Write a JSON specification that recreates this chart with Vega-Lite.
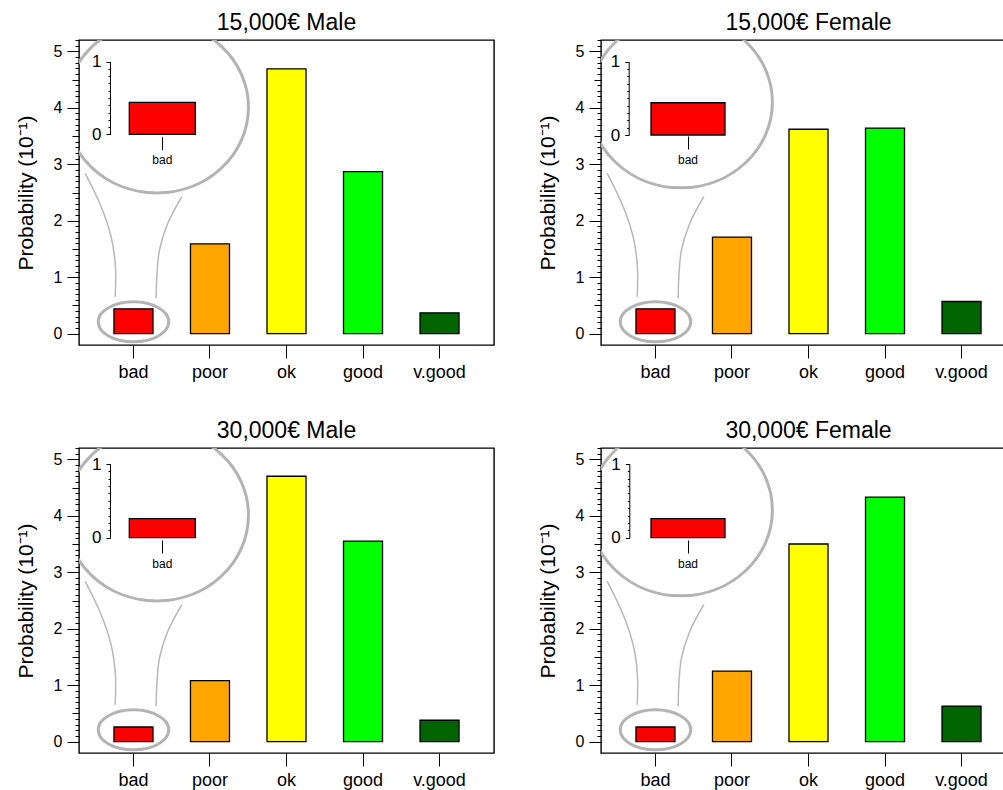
{
"$schema": "https://vega.github.io/schema/vega-lite/v6.json",
"padding": {"left": 14, "top": 10, "right": 0, "bottom": 0},
"config": {
  "font": "Liberation Sans",
  "view": {"stroke": "black", "strokeWidth": 1.4},
  "axis": {"labelColor": "black", "tickColor": "black", "domainColor": "black", "titleColor": "black", "grid": false, "titleFontWeight": "normal", "tickWidth": 1, "domainWidth": 1, "labelFont": "Liberation Sans", "titleFont": "Liberation Sans"},
  "title": {"fontSize": 23, "fontWeight": "normal", "anchor": "middle", "frame": "group", "offset": 5, "baseline": "alphabetic", "color": "black", "font": "Liberation Sans"}
},
"datasets": {
  "bars": [
    {"panel": "15,000€ Male", "cat": "bad", "p": 0.44},
    {"panel": "15,000€ Male", "cat": "poor", "p": 1.59},
    {"panel": "15,000€ Male", "cat": "ok", "p": 4.69},
    {"panel": "15,000€ Male", "cat": "good", "p": 2.87},
    {"panel": "15,000€ Male", "cat": "v.good", "p": 0.37},
    {"panel": "15,000€ Female", "cat": "bad", "p": 0.44},
    {"panel": "15,000€ Female", "cat": "poor", "p": 1.71},
    {"panel": "15,000€ Female", "cat": "ok", "p": 3.62},
    {"panel": "15,000€ Female", "cat": "good", "p": 3.64},
    {"panel": "15,000€ Female", "cat": "v.good", "p": 0.57},
    {"panel": "30,000€ Male", "cat": "bad", "p": 0.26},
    {"panel": "30,000€ Male", "cat": "poor", "p": 1.08},
    {"panel": "30,000€ Male", "cat": "ok", "p": 4.70},
    {"panel": "30,000€ Male", "cat": "good", "p": 3.55},
    {"panel": "30,000€ Male", "cat": "v.good", "p": 0.38},
    {"panel": "30,000€ Female", "cat": "bad", "p": 0.26},
    {"panel": "30,000€ Female", "cat": "poor", "p": 1.25},
    {"panel": "30,000€ Female", "cat": "ok", "p": 3.50},
    {"panel": "30,000€ Female", "cat": "good", "p": 4.33},
    {"panel": "30,000€ Female", "cat": "v.good", "p": 0.63}
  ],
  "circles": [
    {"panel": "15,000€ Male", "kind": "big", "x": 0.305, "y": 4.01},
    {"panel": "15,000€ Male", "kind": "small", "x": 0, "y": 0.21},
    {"panel": "15,000€ Female", "kind": "big", "x": 0.33, "y": 4.1},
    {"panel": "15,000€ Female", "kind": "small", "x": 0, "y": 0.21},
    {"panel": "30,000€ Male", "kind": "big", "x": 0.305, "y": 4.01},
    {"panel": "30,000€ Male", "kind": "small", "x": 0, "y": 0.21},
    {"panel": "30,000€ Female", "kind": "big", "x": 0.33, "y": 4.1},
    {"panel": "30,000€ Female", "kind": "small", "x": 0, "y": 0.21}
  ],
  "curves": [
    {"panel": "15,000€ Male", "side": "L", "i": 1, "x": -0.629, "y": 2.84},
    {"panel": "15,000€ Male", "side": "L", "i": 2, "x": -0.421, "y": 2.249},
    {"panel": "15,000€ Male", "side": "L", "i": 3, "x": -0.291, "y": 1.717},
    {"panel": "15,000€ Male", "side": "L", "i": 4, "x": -0.235, "y": 1.186},
    {"panel": "15,000€ Male", "side": "L", "i": 5, "x": -0.238, "y": 0.655},
    {"panel": "15,000€ Male", "side": "R", "i": 1, "x": 0.631, "y": 2.426},
    {"panel": "15,000€ Male", "side": "R", "i": 2, "x": 0.448, "y": 1.955},
    {"panel": "15,000€ Male", "side": "R", "i": 3, "x": 0.339, "y": 1.482},
    {"panel": "15,000€ Male", "side": "R", "i": 4, "x": 0.305, "y": 1.009},
    {"panel": "15,000€ Male", "side": "R", "i": 5, "x": 0.296, "y": 0.627},
    {"panel": "15,000€ Female", "side": "L", "i": 1, "x": -0.629, "y": 2.84},
    {"panel": "15,000€ Female", "side": "L", "i": 2, "x": -0.421, "y": 2.249},
    {"panel": "15,000€ Female", "side": "L", "i": 3, "x": -0.291, "y": 1.717},
    {"panel": "15,000€ Female", "side": "L", "i": 4, "x": -0.235, "y": 1.186},
    {"panel": "15,000€ Female", "side": "L", "i": 5, "x": -0.238, "y": 0.655},
    {"panel": "15,000€ Female", "side": "R", "i": 1, "x": 0.631, "y": 2.426},
    {"panel": "15,000€ Female", "side": "R", "i": 2, "x": 0.448, "y": 1.955},
    {"panel": "15,000€ Female", "side": "R", "i": 3, "x": 0.339, "y": 1.482},
    {"panel": "15,000€ Female", "side": "R", "i": 4, "x": 0.305, "y": 1.009},
    {"panel": "15,000€ Female", "side": "R", "i": 5, "x": 0.296, "y": 0.627},
    {"panel": "30,000€ Male", "side": "L", "i": 1, "x": -0.629, "y": 2.84},
    {"panel": "30,000€ Male", "side": "L", "i": 2, "x": -0.421, "y": 2.249},
    {"panel": "30,000€ Male", "side": "L", "i": 3, "x": -0.291, "y": 1.717},
    {"panel": "30,000€ Male", "side": "L", "i": 4, "x": -0.235, "y": 1.186},
    {"panel": "30,000€ Male", "side": "L", "i": 5, "x": -0.238, "y": 0.655},
    {"panel": "30,000€ Male", "side": "R", "i": 1, "x": 0.631, "y": 2.426},
    {"panel": "30,000€ Male", "side": "R", "i": 2, "x": 0.448, "y": 1.955},
    {"panel": "30,000€ Male", "side": "R", "i": 3, "x": 0.339, "y": 1.482},
    {"panel": "30,000€ Male", "side": "R", "i": 4, "x": 0.305, "y": 1.009},
    {"panel": "30,000€ Male", "side": "R", "i": 5, "x": 0.296, "y": 0.627},
    {"panel": "30,000€ Female", "side": "L", "i": 1, "x": -0.629, "y": 2.84},
    {"panel": "30,000€ Female", "side": "L", "i": 2, "x": -0.421, "y": 2.249},
    {"panel": "30,000€ Female", "side": "L", "i": 3, "x": -0.291, "y": 1.717},
    {"panel": "30,000€ Female", "side": "L", "i": 4, "x": -0.235, "y": 1.186},
    {"panel": "30,000€ Female", "side": "L", "i": 5, "x": -0.238, "y": 0.655},
    {"panel": "30,000€ Female", "side": "R", "i": 1, "x": 0.631, "y": 2.426},
    {"panel": "30,000€ Female", "side": "R", "i": 2, "x": 0.448, "y": 1.955},
    {"panel": "30,000€ Female", "side": "R", "i": 3, "x": 0.339, "y": 1.482},
    {"panel": "30,000€ Female", "side": "R", "i": 4, "x": 0.305, "y": 1.009},
    {"panel": "30,000€ Female", "side": "R", "i": 5, "x": 0.296, "y": 0.627}
  ]
},
"columns": 2,
"spacing": {"row": 103, "column": 107},
"bounds": "flush",
"concat": [
{
"width": 415, "height": 305,
"title": {"text": "15,000€ Male"},
"resolve": {"scale": {"x": "independent", "y": "independent"}},
"layer": [
 {"data": {"name": "bars"}, "transform": [{"filter": "datum.panel === '15,000€ Male'"}],
  "mark": {"type": "bar", "stroke": "black", "strokeWidth": 1.3},
  "encoding": {
   "x": {"field": "cat", "type": "nominal", "scale": {"domain": ["bad", "poor", "ok", "good", "v.good"], "paddingInner": 0.49, "paddingOuter": 0.457}, "axis": {"orient": "bottom", "title": null, "domain": false, "tickSize": 13, "labelPadding": 5, "labelFontSize": 18, "labelAngle": 0}},
   "y": {"field": "p", "type": "quantitative", "scale": {"domain": [-0.2, 5.2], "nice": false, "zero": false}, "axis": {"orient": "left", "title": "Probability (10⁻¹)", "values": [0, 1, 2, 3, 4, 5], "tickSize": 12, "labelPadding": 5, "labelFontSize": 16, "titleFontSize": 21, "titlePadding": 17, "domain": false}},
   "y2": {"datum": 0},
   "fill": {"field": "cat", "type": "nominal", "scale": {"domain": ["bad", "poor", "ok", "good", "v.good"], "range": ["#FF0000", "#FFA500", "#FFFF00", "#00FF00", "#006400"]}, "legend": null}
  }},
 {"data": {"name": "bars"}, "transform": [{"filter": "datum.panel === '15,000€ Male'"}],
  "mark": {"type": "point", "opacity": 0},
  "encoding": {"x": {"field": "cat", "type": "nominal", "axis": null}, "y": {"field": "p", "type": "quantitative", "scale": {"domain": [-0.2, 5.2], "nice": false, "zero": false}, "axis": {"orient": "left", "title": null, "labels": false, "domain": false, "tickSize": 4, "values": [0,0.1,0.2,0.3,0.4,0.5,0.6,0.7,0.8,0.9,1,1.1,1.2,1.3,1.4,1.5,1.6,1.7,1.8,1.9,2,2.1,2.2,2.3,2.4,2.5,2.6,2.7,2.8,2.9,3,3.1,3.2,3.3,3.4,3.5,3.6,3.7,3.8,3.9,4,4.1,4.2,4.3,4.4,4.5,4.6,4.7,4.8,4.9,5,5.1,5.2]}}}},
 {"data": {"name": "bars"}, "transform": [{"filter": "datum.panel === '15,000€ Male'"}],
  "mark": {"type": "point", "opacity": 0},
  "encoding": {"x": {"field": "cat", "type": "nominal", "axis": null}, "y": {"field": "p", "type": "quantitative", "scale": {"domain": [-0.2, 5.2], "nice": false, "zero": false}, "axis": {"orient": "left", "title": null, "labels": false, "domain": false, "tickSize": 7, "values": [0.5, 1.5, 2.5, 3.5, 4.5]}}}},
 {"data": {"name": "bars"}, "transform": [{"filter": "datum.panel === '15,000€ Male' && datum.cat === 'bad'"}],
  "mark": {"type": "bar", "stroke": "black", "strokeWidth": 1.3, "fill": "#FF0000"},
  "encoding": {
   "x": {"field": "cat", "type": "nominal", "scale": {"domain": ["bad"], "range": [50.3, 116.3], "paddingInner": 0, "paddingOuter": 0}, "axis": {"orient": "bottom", "offset": -208.3, "title": null, "domain": false, "tickSize": 13, "labelPadding": 5, "labelFontSize": 12, "labelAngle": 0}},
   "y": {"field": "p", "type": "quantitative", "scale": {"domain": [0, 1], "range": [94.3, 21.7], "nice": false, "zero": false}, "axis": {"orient": "left", "offset": -31, "title": null, "values": [0, 1], "format": "d", "tickSize": 4, "labelPadding": 5, "labelFontSize": 17, "domain": true}},
   "y2": {"datum": 0}
  }},
 {"data": {"name": "bars"}, "transform": [{"filter": "datum.panel === '15,000€ Male' && datum.cat === 'bad'"}],
  "mark": {"type": "point", "opacity": 0},
  "encoding": {"x": {"field": "cat", "type": "nominal", "axis": null}, "y": {"field": "p", "type": "quantitative", "scale": {"domain": [0, 1], "range": [94.3, 21.7], "nice": false, "zero": false}, "axis": {"orient": "left", "offset": -31, "title": null, "labels": false, "domain": false, "tickSize": 2, "values": [0,0.1,0.2,0.3,0.4,0.5,0.6,0.7,0.8,0.9,1]}}}},
 {"data": {"name": "circles"}, "transform": [{"filter": "datum.panel === '15,000€ Male' && datum.kind === 'big'"}],
  "mark": {"type": "point", "shape": "M1,0C1,0.517 0.552,0.936 0,0.936C-0.552,0.936 -1,0.517 -1,0C-1,-0.517 -0.552,-0.936 0,-0.936C0.552,-0.936 1,-0.517 1,0Z", "size": 33562, "filled": false, "stroke": "#b3b3b3", "strokeWidth": 3, "opacity": 1, "clip": true},
  "encoding": {"x": {"field": "x", "type": "quantitative", "scale": {"domain": [-0.71, 4.7], "nice": false, "zero": false}, "axis": null}, "y": {"field": "y", "type": "quantitative", "scale": {"domain": [-0.2, 5.2], "nice": false, "zero": false}, "axis": null}}},
 {"data": {"name": "circles"}, "transform": [{"filter": "datum.panel === '15,000€ Male' && datum.kind === 'small'"}],
  "mark": {"type": "point", "shape": "M1,0C1,0.313 0.552,0.567 0,0.567C-0.552,0.567 -1,0.313 -1,0C-1,-0.313 -0.552,-0.567 0,-0.567C0.552,-0.567 1,-0.313 1,0Z", "size": 4984, "filled": false, "stroke": "#b3b3b3", "strokeWidth": 3, "opacity": 1, "clip": true},
  "encoding": {"x": {"field": "x", "type": "quantitative", "scale": {"domain": [-0.71, 4.7], "nice": false, "zero": false}, "axis": null}, "y": {"field": "y", "type": "quantitative", "scale": {"domain": [-0.2, 5.2], "nice": false, "zero": false}, "axis": null}}},
 {"data": {"name": "curves"}, "transform": [{"filter": "datum.panel === '15,000€ Male'"}],
  "mark": {"type": "line", "stroke": "#b8b8b8", "strokeWidth": 1.5, "interpolate": "catmull-rom"},
  "encoding": {"x": {"field": "x", "type": "quantitative", "scale": {"domain": [-0.71, 4.7], "nice": false, "zero": false}, "axis": null}, "y": {"field": "y", "type": "quantitative", "scale": {"domain": [-0.2, 5.2], "nice": false, "zero": false}, "axis": null}, "detail": {"field": "side"}, "order": {"field": "i"}}}
]
},
{
"width": 415, "height": 305,
"title": {"text": "15,000€ Female"},
"resolve": {"scale": {"x": "independent", "y": "independent"}},
"layer": [
 {"data": {"name": "bars"}, "transform": [{"filter": "datum.panel === '15,000€ Female'"}],
  "mark": {"type": "bar", "stroke": "black", "strokeWidth": 1.3},
  "encoding": {
   "x": {"field": "cat", "type": "nominal", "scale": {"domain": ["bad", "poor", "ok", "good", "v.good"], "paddingInner": 0.49, "paddingOuter": 0.457}, "axis": {"orient": "bottom", "title": null, "domain": false, "tickSize": 13, "labelPadding": 5, "labelFontSize": 18, "labelAngle": 0}},
   "y": {"field": "p", "type": "quantitative", "scale": {"domain": [-0.2, 5.2], "nice": false, "zero": false}, "axis": {"orient": "left", "title": "Probability (10⁻¹)", "values": [0, 1, 2, 3, 4, 5], "tickSize": 12, "labelPadding": 5, "labelFontSize": 16, "titleFontSize": 21, "titlePadding": 17, "domain": false}},
   "y2": {"datum": 0},
   "fill": {"field": "cat", "type": "nominal", "scale": {"domain": ["bad", "poor", "ok", "good", "v.good"], "range": ["#FF0000", "#FFA500", "#FFFF00", "#00FF00", "#006400"]}, "legend": null}
  }},
 {"data": {"name": "bars"}, "transform": [{"filter": "datum.panel === '15,000€ Female'"}],
  "mark": {"type": "point", "opacity": 0},
  "encoding": {"x": {"field": "cat", "type": "nominal", "axis": null}, "y": {"field": "p", "type": "quantitative", "scale": {"domain": [-0.2, 5.2], "nice": false, "zero": false}, "axis": {"orient": "left", "title": null, "labels": false, "domain": false, "tickSize": 4, "values": [0,0.1,0.2,0.3,0.4,0.5,0.6,0.7,0.8,0.9,1,1.1,1.2,1.3,1.4,1.5,1.6,1.7,1.8,1.9,2,2.1,2.2,2.3,2.4,2.5,2.6,2.7,2.8,2.9,3,3.1,3.2,3.3,3.4,3.5,3.6,3.7,3.8,3.9,4,4.1,4.2,4.3,4.4,4.5,4.6,4.7,4.8,4.9,5,5.1,5.2]}}}},
 {"data": {"name": "bars"}, "transform": [{"filter": "datum.panel === '15,000€ Female'"}],
  "mark": {"type": "point", "opacity": 0},
  "encoding": {"x": {"field": "cat", "type": "nominal", "axis": null}, "y": {"field": "p", "type": "quantitative", "scale": {"domain": [-0.2, 5.2], "nice": false, "zero": false}, "axis": {"orient": "left", "title": null, "labels": false, "domain": false, "tickSize": 7, "values": [0.5, 1.5, 2.5, 3.5, 4.5]}}}},
 {"data": {"name": "bars"}, "transform": [{"filter": "datum.panel === '15,000€ Female' && datum.cat === 'bad'"}],
  "mark": {"type": "bar", "stroke": "black", "strokeWidth": 1.3, "fill": "#FF0000"},
  "encoding": {
   "x": {"field": "cat", "type": "nominal", "scale": {"domain": ["bad"], "range": [50, 124], "paddingInner": 0, "paddingOuter": 0}, "axis": {"orient": "bottom", "offset": -209, "title": null, "domain": false, "tickSize": 13, "labelPadding": 5, "labelFontSize": 12, "labelAngle": 0}},
   "y": {"field": "p", "type": "quantitative", "scale": {"domain": [0, 1], "range": [95, 21.7], "nice": false, "zero": false}, "axis": {"orient": "left", "offset": -27.7, "title": null, "values": [0, 1], "format": "d", "tickSize": 4, "labelPadding": 5, "labelFontSize": 17, "domain": true}},
   "y2": {"datum": 0}
  }},
 {"data": {"name": "bars"}, "transform": [{"filter": "datum.panel === '15,000€ Female' && datum.cat === 'bad'"}],
  "mark": {"type": "point", "opacity": 0},
  "encoding": {"x": {"field": "cat", "type": "nominal", "axis": null}, "y": {"field": "p", "type": "quantitative", "scale": {"domain": [0, 1], "range": [95, 21.7], "nice": false, "zero": false}, "axis": {"orient": "left", "offset": -27.7, "title": null, "labels": false, "domain": false, "tickSize": 2, "values": [0,0.1,0.2,0.3,0.4,0.5,0.6,0.7,0.8,0.9,1]}}}},
 {"data": {"name": "circles"}, "transform": [{"filter": "datum.panel === '15,000€ Female' && datum.kind === 'big'"}],
  "mark": {"type": "point", "shape": "M1,0C1,0.517 0.552,0.936 0,0.936C-0.552,0.936 -1,0.517 -1,0C-1,-0.517 -0.552,-0.936 0,-0.936C0.552,-0.936 1,-0.517 1,0Z", "size": 33562, "filled": false, "stroke": "#b3b3b3", "strokeWidth": 3, "opacity": 1, "clip": true},
  "encoding": {"x": {"field": "x", "type": "quantitative", "scale": {"domain": [-0.71, 4.7], "nice": false, "zero": false}, "axis": null}, "y": {"field": "y", "type": "quantitative", "scale": {"domain": [-0.2, 5.2], "nice": false, "zero": false}, "axis": null}}},
 {"data": {"name": "circles"}, "transform": [{"filter": "datum.panel === '15,000€ Female' && datum.kind === 'small'"}],
  "mark": {"type": "point", "shape": "M1,0C1,0.313 0.552,0.567 0,0.567C-0.552,0.567 -1,0.313 -1,0C-1,-0.313 -0.552,-0.567 0,-0.567C0.552,-0.567 1,-0.313 1,0Z", "size": 4984, "filled": false, "stroke": "#b3b3b3", "strokeWidth": 3, "opacity": 1, "clip": true},
  "encoding": {"x": {"field": "x", "type": "quantitative", "scale": {"domain": [-0.71, 4.7], "nice": false, "zero": false}, "axis": null}, "y": {"field": "y", "type": "quantitative", "scale": {"domain": [-0.2, 5.2], "nice": false, "zero": false}, "axis": null}}},
 {"data": {"name": "curves"}, "transform": [{"filter": "datum.panel === '15,000€ Female'"}],
  "mark": {"type": "line", "stroke": "#b8b8b8", "strokeWidth": 1.5, "interpolate": "catmull-rom"},
  "encoding": {"x": {"field": "x", "type": "quantitative", "scale": {"domain": [-0.71, 4.7], "nice": false, "zero": false}, "axis": null}, "y": {"field": "y", "type": "quantitative", "scale": {"domain": [-0.2, 5.2], "nice": false, "zero": false}, "axis": null}, "detail": {"field": "side"}, "order": {"field": "i"}}}
]
},
{
"width": 415, "height": 305,
"title": {"text": "30,000€ Male"},
"resolve": {"scale": {"x": "independent", "y": "independent"}},
"layer": [
 {"data": {"name": "bars"}, "transform": [{"filter": "datum.panel === '30,000€ Male'"}],
  "mark": {"type": "bar", "stroke": "black", "strokeWidth": 1.3},
  "encoding": {
   "x": {"field": "cat", "type": "nominal", "scale": {"domain": ["bad", "poor", "ok", "good", "v.good"], "paddingInner": 0.49, "paddingOuter": 0.457}, "axis": {"orient": "bottom", "title": null, "domain": false, "tickSize": 13, "labelPadding": 5, "labelFontSize": 18, "labelAngle": 0}},
   "y": {"field": "p", "type": "quantitative", "scale": {"domain": [-0.2, 5.2], "nice": false, "zero": false}, "axis": {"orient": "left", "title": "Probability (10⁻¹)", "values": [0, 1, 2, 3, 4, 5], "tickSize": 12, "labelPadding": 5, "labelFontSize": 16, "titleFontSize": 21, "titlePadding": 17, "domain": false}},
   "y2": {"datum": 0},
   "fill": {"field": "cat", "type": "nominal", "scale": {"domain": ["bad", "poor", "ok", "good", "v.good"], "range": ["#FF0000", "#FFA500", "#FFFF00", "#00FF00", "#006400"]}, "legend": null}
  }},
 {"data": {"name": "bars"}, "transform": [{"filter": "datum.panel === '30,000€ Male'"}],
  "mark": {"type": "point", "opacity": 0},
  "encoding": {"x": {"field": "cat", "type": "nominal", "axis": null}, "y": {"field": "p", "type": "quantitative", "scale": {"domain": [-0.2, 5.2], "nice": false, "zero": false}, "axis": {"orient": "left", "title": null, "labels": false, "domain": false, "tickSize": 4, "values": [0,0.1,0.2,0.3,0.4,0.5,0.6,0.7,0.8,0.9,1,1.1,1.2,1.3,1.4,1.5,1.6,1.7,1.8,1.9,2,2.1,2.2,2.3,2.4,2.5,2.6,2.7,2.8,2.9,3,3.1,3.2,3.3,3.4,3.5,3.6,3.7,3.8,3.9,4,4.1,4.2,4.3,4.4,4.5,4.6,4.7,4.8,4.9,5,5.1,5.2]}}}},
 {"data": {"name": "bars"}, "transform": [{"filter": "datum.panel === '30,000€ Male'"}],
  "mark": {"type": "point", "opacity": 0},
  "encoding": {"x": {"field": "cat", "type": "nominal", "axis": null}, "y": {"field": "p", "type": "quantitative", "scale": {"domain": [-0.2, 5.2], "nice": false, "zero": false}, "axis": {"orient": "left", "title": null, "labels": false, "domain": false, "tickSize": 7, "values": [0.5, 1.5, 2.5, 3.5, 4.5]}}}},
 {"data": {"name": "bars"}, "transform": [{"filter": "datum.panel === '30,000€ Male' && datum.cat === 'bad'"}],
  "mark": {"type": "bar", "stroke": "black", "strokeWidth": 1.3, "fill": "#FF0000"},
  "encoding": {
   "x": {"field": "cat", "type": "nominal", "scale": {"domain": ["bad"], "range": [50.3, 116.3], "paddingInner": 0, "paddingOuter": 0}, "axis": {"orient": "bottom", "offset": -213, "title": null, "domain": false, "tickSize": 13, "labelPadding": 5, "labelFontSize": 12, "labelAngle": 0}},
   "y": {"field": "p", "type": "quantitative", "scale": {"domain": [0, 1], "range": [89.7, 16], "nice": false, "zero": false}, "axis": {"orient": "left", "offset": -31, "title": null, "values": [0, 1], "format": "d", "tickSize": 4, "labelPadding": 5, "labelFontSize": 17, "domain": true}},
   "y2": {"datum": 0}
  }},
 {"data": {"name": "bars"}, "transform": [{"filter": "datum.panel === '30,000€ Male' && datum.cat === 'bad'"}],
  "mark": {"type": "point", "opacity": 0},
  "encoding": {"x": {"field": "cat", "type": "nominal", "axis": null}, "y": {"field": "p", "type": "quantitative", "scale": {"domain": [0, 1], "range": [89.7, 16], "nice": false, "zero": false}, "axis": {"orient": "left", "offset": -31, "title": null, "labels": false, "domain": false, "tickSize": 2, "values": [0,0.1,0.2,0.3,0.4,0.5,0.6,0.7,0.8,0.9,1]}}}},
 {"data": {"name": "circles"}, "transform": [{"filter": "datum.panel === '30,000€ Male' && datum.kind === 'big'"}],
  "mark": {"type": "point", "shape": "M1,0C1,0.517 0.552,0.936 0,0.936C-0.552,0.936 -1,0.517 -1,0C-1,-0.517 -0.552,-0.936 0,-0.936C0.552,-0.936 1,-0.517 1,0Z", "size": 33562, "filled": false, "stroke": "#b3b3b3", "strokeWidth": 3, "opacity": 1, "clip": true},
  "encoding": {"x": {"field": "x", "type": "quantitative", "scale": {"domain": [-0.71, 4.7], "nice": false, "zero": false}, "axis": null}, "y": {"field": "y", "type": "quantitative", "scale": {"domain": [-0.2, 5.2], "nice": false, "zero": false}, "axis": null}}},
 {"data": {"name": "circles"}, "transform": [{"filter": "datum.panel === '30,000€ Male' && datum.kind === 'small'"}],
  "mark": {"type": "point", "shape": "M1,0C1,0.313 0.552,0.567 0,0.567C-0.552,0.567 -1,0.313 -1,0C-1,-0.313 -0.552,-0.567 0,-0.567C0.552,-0.567 1,-0.313 1,0Z", "size": 4984, "filled": false, "stroke": "#b3b3b3", "strokeWidth": 3, "opacity": 1, "clip": true},
  "encoding": {"x": {"field": "x", "type": "quantitative", "scale": {"domain": [-0.71, 4.7], "nice": false, "zero": false}, "axis": null}, "y": {"field": "y", "type": "quantitative", "scale": {"domain": [-0.2, 5.2], "nice": false, "zero": false}, "axis": null}}},
 {"data": {"name": "curves"}, "transform": [{"filter": "datum.panel === '30,000€ Male'"}],
  "mark": {"type": "line", "stroke": "#b8b8b8", "strokeWidth": 1.5, "interpolate": "catmull-rom"},
  "encoding": {"x": {"field": "x", "type": "quantitative", "scale": {"domain": [-0.71, 4.7], "nice": false, "zero": false}, "axis": null}, "y": {"field": "y", "type": "quantitative", "scale": {"domain": [-0.2, 5.2], "nice": false, "zero": false}, "axis": null}, "detail": {"field": "side"}, "order": {"field": "i"}}}
]
},
{
"width": 415, "height": 305,
"title": {"text": "30,000€ Female"},
"resolve": {"scale": {"x": "independent", "y": "independent"}},
"layer": [
 {"data": {"name": "bars"}, "transform": [{"filter": "datum.panel === '30,000€ Female'"}],
  "mark": {"type": "bar", "stroke": "black", "strokeWidth": 1.3},
  "encoding": {
   "x": {"field": "cat", "type": "nominal", "scale": {"domain": ["bad", "poor", "ok", "good", "v.good"], "paddingInner": 0.49, "paddingOuter": 0.457}, "axis": {"orient": "bottom", "title": null, "domain": false, "tickSize": 13, "labelPadding": 5, "labelFontSize": 18, "labelAngle": 0}},
   "y": {"field": "p", "type": "quantitative", "scale": {"domain": [-0.2, 5.2], "nice": false, "zero": false}, "axis": {"orient": "left", "title": "Probability (10⁻¹)", "values": [0, 1, 2, 3, 4, 5], "tickSize": 12, "labelPadding": 5, "labelFontSize": 16, "titleFontSize": 21, "titlePadding": 17, "domain": false}},
   "y2": {"datum": 0},
   "fill": {"field": "cat", "type": "nominal", "scale": {"domain": ["bad", "poor", "ok", "good", "v.good"], "range": ["#FF0000", "#FFA500", "#FFFF00", "#00FF00", "#006400"]}, "legend": null}
  }},
 {"data": {"name": "bars"}, "transform": [{"filter": "datum.panel === '30,000€ Female'"}],
  "mark": {"type": "point", "opacity": 0},
  "encoding": {"x": {"field": "cat", "type": "nominal", "axis": null}, "y": {"field": "p", "type": "quantitative", "scale": {"domain": [-0.2, 5.2], "nice": false, "zero": false}, "axis": {"orient": "left", "title": null, "labels": false, "domain": false, "tickSize": 4, "values": [0,0.1,0.2,0.3,0.4,0.5,0.6,0.7,0.8,0.9,1,1.1,1.2,1.3,1.4,1.5,1.6,1.7,1.8,1.9,2,2.1,2.2,2.3,2.4,2.5,2.6,2.7,2.8,2.9,3,3.1,3.2,3.3,3.4,3.5,3.6,3.7,3.8,3.9,4,4.1,4.2,4.3,4.4,4.5,4.6,4.7,4.8,4.9,5,5.1,5.2]}}}},
 {"data": {"name": "bars"}, "transform": [{"filter": "datum.panel === '30,000€ Female'"}],
  "mark": {"type": "point", "opacity": 0},
  "encoding": {"x": {"field": "cat", "type": "nominal", "axis": null}, "y": {"field": "p", "type": "quantitative", "scale": {"domain": [-0.2, 5.2], "nice": false, "zero": false}, "axis": {"orient": "left", "title": null, "labels": false, "domain": false, "tickSize": 7, "values": [0.5, 1.5, 2.5, 3.5, 4.5]}}}},
 {"data": {"name": "bars"}, "transform": [{"filter": "datum.panel === '30,000€ Female' && datum.cat === 'bad'"}],
  "mark": {"type": "bar", "stroke": "black", "strokeWidth": 1.3, "fill": "#FF0000"},
  "encoding": {
   "x": {"field": "cat", "type": "nominal", "scale": {"domain": ["bad"], "range": [50, 124], "paddingInner": 0, "paddingOuter": 0}, "axis": {"orient": "bottom", "offset": -213, "title": null, "domain": false, "tickSize": 13, "labelPadding": 5, "labelFontSize": 12, "labelAngle": 0}},
   "y": {"field": "p", "type": "quantitative", "scale": {"domain": [0, 1], "range": [89.7, 16], "nice": false, "zero": false}, "axis": {"orient": "left", "offset": -28.3, "title": null, "values": [0, 1], "format": "d", "tickSize": 4, "labelPadding": 5, "labelFontSize": 17, "domain": true}},
   "y2": {"datum": 0}
  }},
 {"data": {"name": "bars"}, "transform": [{"filter": "datum.panel === '30,000€ Female' && datum.cat === 'bad'"}],
  "mark": {"type": "point", "opacity": 0},
  "encoding": {"x": {"field": "cat", "type": "nominal", "axis": null}, "y": {"field": "p", "type": "quantitative", "scale": {"domain": [0, 1], "range": [89.7, 16], "nice": false, "zero": false}, "axis": {"orient": "left", "offset": -28.3, "title": null, "labels": false, "domain": false, "tickSize": 2, "values": [0,0.1,0.2,0.3,0.4,0.5,0.6,0.7,0.8,0.9,1]}}}},
 {"data": {"name": "circles"}, "transform": [{"filter": "datum.panel === '30,000€ Female' && datum.kind === 'big'"}],
  "mark": {"type": "point", "shape": "M1,0C1,0.517 0.552,0.936 0,0.936C-0.552,0.936 -1,0.517 -1,0C-1,-0.517 -0.552,-0.936 0,-0.936C0.552,-0.936 1,-0.517 1,0Z", "size": 33562, "filled": false, "stroke": "#b3b3b3", "strokeWidth": 3, "opacity": 1, "clip": true},
  "encoding": {"x": {"field": "x", "type": "quantitative", "scale": {"domain": [-0.71, 4.7], "nice": false, "zero": false}, "axis": null}, "y": {"field": "y", "type": "quantitative", "scale": {"domain": [-0.2, 5.2], "nice": false, "zero": false}, "axis": null}}},
 {"data": {"name": "circles"}, "transform": [{"filter": "datum.panel === '30,000€ Female' && datum.kind === 'small'"}],
  "mark": {"type": "point", "shape": "M1,0C1,0.313 0.552,0.567 0,0.567C-0.552,0.567 -1,0.313 -1,0C-1,-0.313 -0.552,-0.567 0,-0.567C0.552,-0.567 1,-0.313 1,0Z", "size": 4984, "filled": false, "stroke": "#b3b3b3", "strokeWidth": 3, "opacity": 1, "clip": true},
  "encoding": {"x": {"field": "x", "type": "quantitative", "scale": {"domain": [-0.71, 4.7], "nice": false, "zero": false}, "axis": null}, "y": {"field": "y", "type": "quantitative", "scale": {"domain": [-0.2, 5.2], "nice": false, "zero": false}, "axis": null}}},
 {"data": {"name": "curves"}, "transform": [{"filter": "datum.panel === '30,000€ Female'"}],
  "mark": {"type": "line", "stroke": "#b8b8b8", "strokeWidth": 1.5, "interpolate": "catmull-rom"},
  "encoding": {"x": {"field": "x", "type": "quantitative", "scale": {"domain": [-0.71, 4.7], "nice": false, "zero": false}, "axis": null}, "y": {"field": "y", "type": "quantitative", "scale": {"domain": [-0.2, 5.2], "nice": false, "zero": false}, "axis": null}, "detail": {"field": "side"}, "order": {"field": "i"}}}
]
}
]
}
